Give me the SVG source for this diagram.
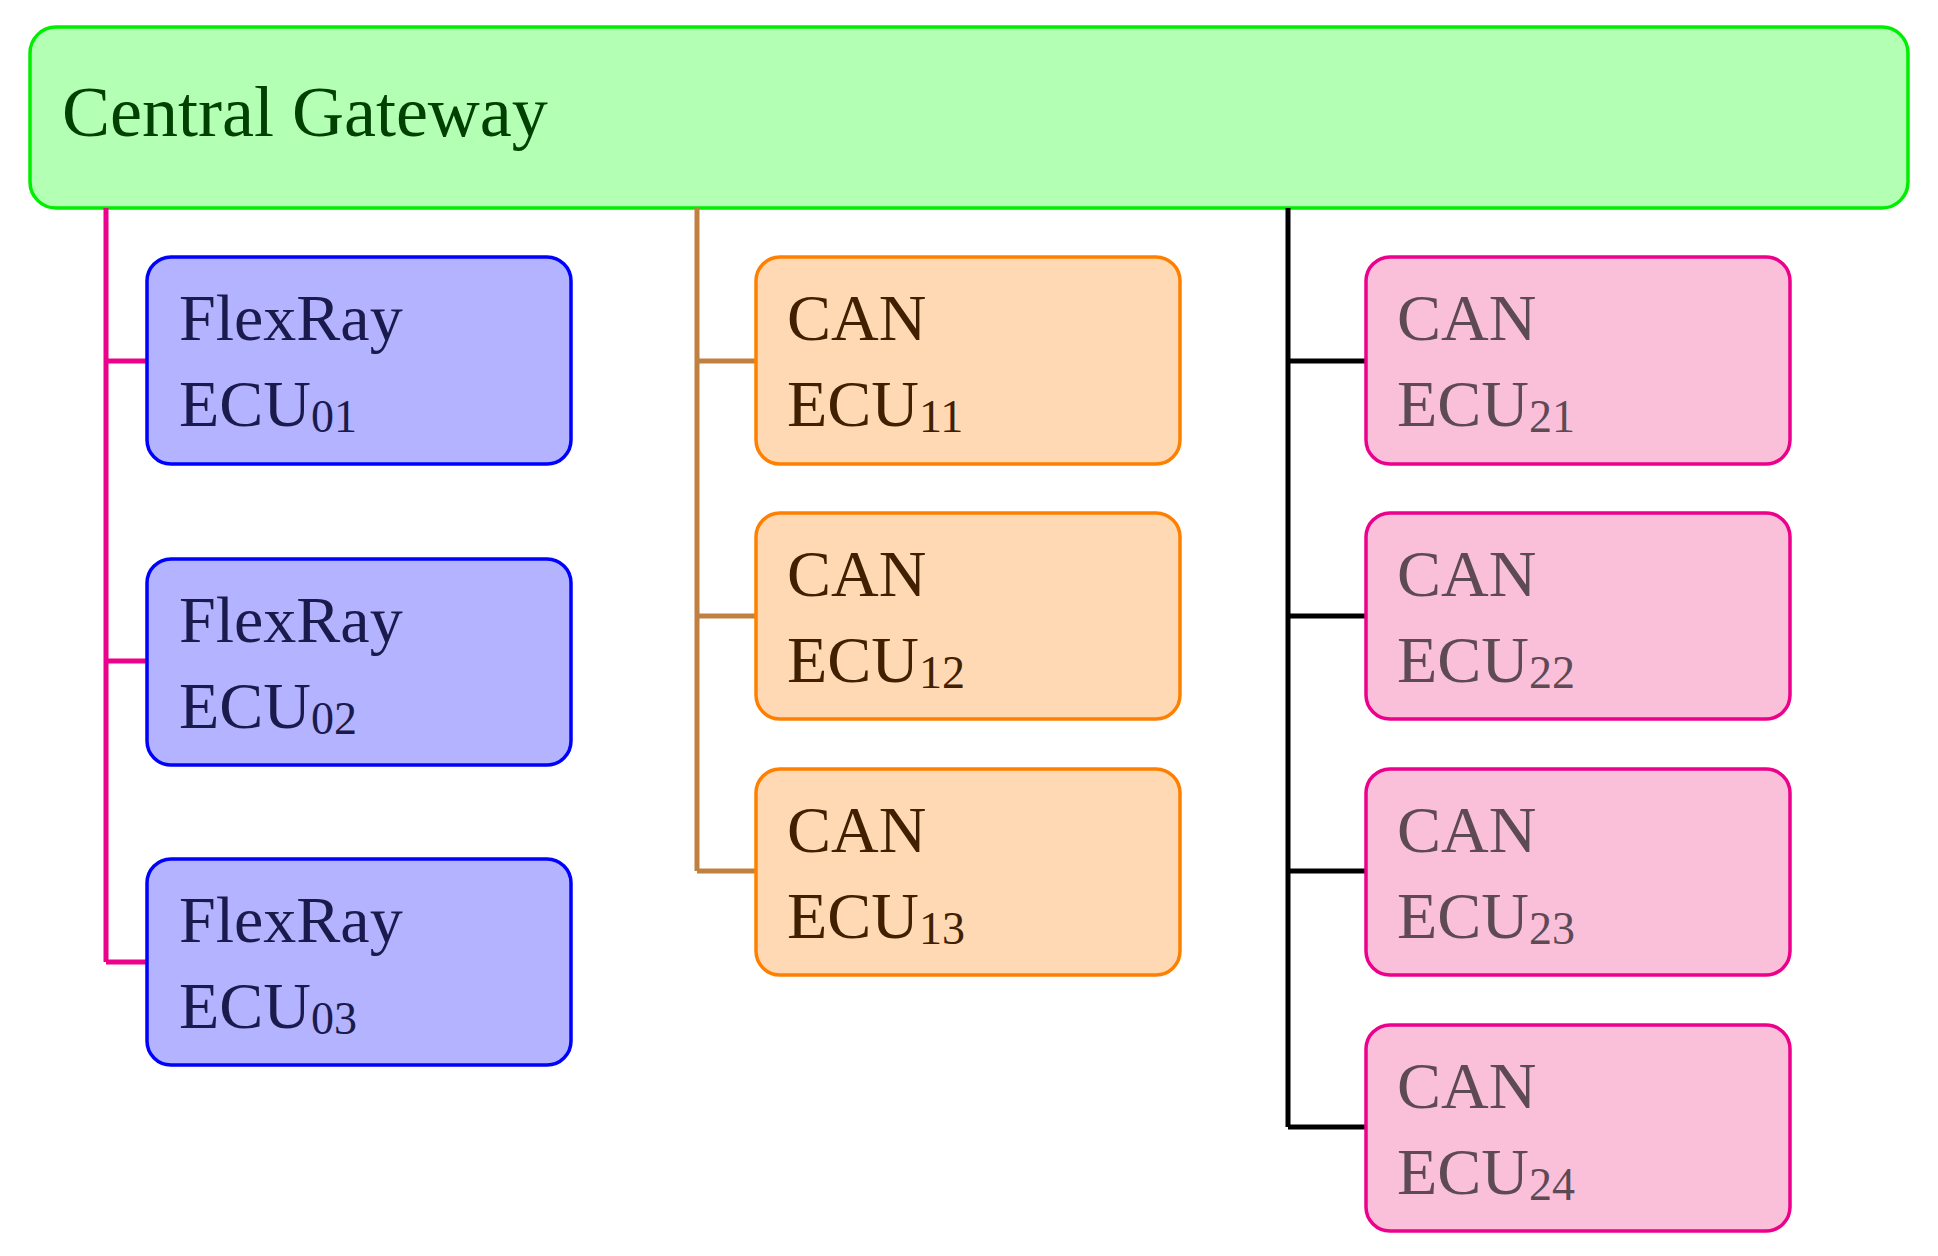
<svg xmlns="http://www.w3.org/2000/svg" width="1938" height="1256" viewBox="0 0 1938 1256">
<style>
text{font-family:"Liberation Serif","DejaVu Serif",serif;font-size:66px}
.sub{font-size:46px}
.fr rect{fill:#b3b3ff;stroke:#0000ff;stroke-width:3.5}
.fr text{fill:#1a1a4d}
.or rect{fill:#ffd9b3;stroke:#ff8000;stroke-width:3.5}
.or text{fill:#402000}
.pk rect{fill:#fbc0d9;stroke:#ec008c;stroke-width:3.5}
.pk text{fill:#5e4a55}
.c{fill:none;stroke-width:5}
</style>
<g id="gateway"><rect x="30" y="27" width="1878" height="181" rx="26" fill="#b3ffb3" stroke="#00ee00" stroke-width="3.5"/><text x="62" y="136" style="font-size:72px" fill="#004000">Central Gateway</text></g>
<g id="connectors">
<path class="c" stroke="#ec008c" d="M106 208V962M106 361H147M106 661H147M106 962H147"/>
<path class="c" stroke="#c08040" d="M697 208V871M697 361H756M697 616H756M697 871H756"/>
<path class="c" stroke="#000" d="M1288 208V1127M1288 361H1366M1288 616H1366M1288 871H1366M1288 1127H1366"/>
</g>
<g id="ecu01" class="fr"><rect x="147" y="257" width="424" height="207" rx="24"/><text x="179" y="340">FlexRay</text><text x="179" y="426">ECU<tspan class="sub" dy="6">01</tspan></text></g>
<g id="ecu02" class="fr"><rect x="147" y="559" width="424" height="206" rx="24"/><text x="179" y="642">FlexRay</text><text x="179" y="728">ECU<tspan class="sub" dy="6">02</tspan></text></g>
<g id="ecu03" class="fr"><rect x="147" y="859" width="424" height="206" rx="24"/><text x="179" y="942">FlexRay</text><text x="179" y="1028">ECU<tspan class="sub" dy="6">03</tspan></text></g>
<g id="ecu11" class="or"><rect x="756" y="257" width="424" height="207" rx="24"/><text x="787" y="340">CAN</text><text x="787" y="426">ECU<tspan class="sub" dy="6">11</tspan></text></g>
<g id="ecu12" class="or"><rect x="756" y="513" width="424" height="206" rx="24"/><text x="787" y="596">CAN</text><text x="787" y="682">ECU<tspan class="sub" dy="6">12</tspan></text></g>
<g id="ecu13" class="or"><rect x="756" y="769" width="424" height="206" rx="24"/><text x="787" y="852">CAN</text><text x="787" y="938">ECU<tspan class="sub" dy="6">13</tspan></text></g>
<g id="ecu21" class="pk"><rect x="1366" y="257" width="424" height="207" rx="24"/><text x="1397" y="340">CAN</text><text x="1397" y="426">ECU<tspan class="sub" dy="6">21</tspan></text></g>
<g id="ecu22" class="pk"><rect x="1366" y="513" width="424" height="206" rx="24"/><text x="1397" y="596">CAN</text><text x="1397" y="682">ECU<tspan class="sub" dy="6">22</tspan></text></g>
<g id="ecu23" class="pk"><rect x="1366" y="769" width="424" height="206" rx="24"/><text x="1397" y="852">CAN</text><text x="1397" y="938">ECU<tspan class="sub" dy="6">23</tspan></text></g>
<g id="ecu24" class="pk"><rect x="1366" y="1025" width="424" height="206" rx="24"/><text x="1397" y="1108">CAN</text><text x="1397" y="1194">ECU<tspan class="sub" dy="6">24</tspan></text></g>
</svg>
